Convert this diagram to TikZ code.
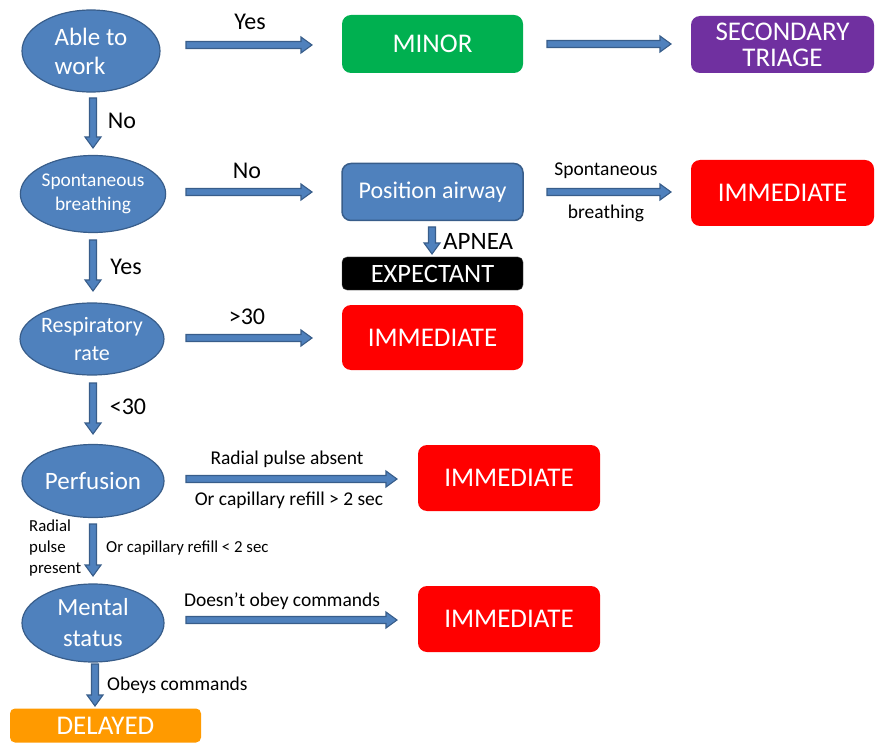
\documentclass[tikz,border=0pt]{standalone}
\usepackage{fontspec}
\setmainfont{Carlito}
\usetikzlibrary{calc,shapes.geometric}
\definecolor{obtblue}{HTML}{4F81BD}
\definecolor{obtdark}{HTML}{385D8A}
\definecolor{minorgreen}{HTML}{00B050}
\definecolor{triagepurple}{HTML}{7030A0}
\definecolor{immred}{HTML}{FF0000}
\definecolor{delayorange}{HTML}{FF9A00}
\newcommand\fsz[2]{\fontsize{#1}{#2}\selectfont}
% block arrow between two named points
\newcommand\blockarr[2]{%
  \draw[barrow] let \p1=(#1), \p2=(#2), \n1={atan2(\y2-\y1,\x2-\x1)}, \n2={veclen(\x2-\x1,\y2-\y1)} in
    [shift={(\p1)}, rotate=\n1]
    (0,-3.5) -- (\n2-11,-3.5) -- (\n2-11,-8) -- (\n2,0) -- (\n2-11,8) -- (\n2-11,3.5) -- (0,3.5) -- cycle;}
\begin{document}
\begin{tikzpicture}[x=1pt,y=-1pt,
  barrow/.style={fill=obtblue, draw=obtdark, line width=1.1pt, line join=miter},
  oval/.style={ellipse, fill=obtblue, draw=obtdark, line width=1.2pt, text=white, inner sep=0pt, align=center},
  outbox/.style={rectangle, rounded corners=9pt, text=white, inner sep=0pt, minimum width=181pt, align=center, font=\fsz{27}{26}},
  lbl/.style={inner sep=0pt, text=black, font=\fsz{24}{28}},
  smlbl/.style={inner sep=0pt, text=black, font=\fsz{19.5}{22}},
  tinylbl/.style={inner sep=0pt, text=black, font=\fsz{16.8}{21}}]
\useasboundingbox (0,0) rectangle (875,743);

% assessment steps
\node[oval, minimum width=138pt, minimum height=82pt, align=left, font=\fsz{25}{29}] (able) at (91,51) {Able to\\work};
\node[oval, minimum width=142pt, minimum height=77pt, font=\fsz{19.4}{24}] (spont) at (93,194) {Spontaneous\\breathing};
\node[oval, minimum width=140pt, minimum height=72pt, font=\fsz{22}{28}] (resp) at (92,339) {Respiratory\\rate};
\node[oval, minimum width=142pt, minimum height=73pt, font=\fsz{25}{29}] (perf) at (93,481) {Perfusion};
\node[oval, minimum width=142pt, minimum height=78pt, font=\fsz{24.6}{31}] (mental) at (93,623) {Mental\\status};

% outcomes
\node[outbox, fill=minorgreen, minimum height=58pt] (minor) at (432.5,44) {MINOR};
\node[outbox, fill=triagepurple, minimum width=183pt, minimum height=57pt] (second) at (782.5,44.5) {SECONDARY\\TRIAGE};
\node[outbox, fill=obtblue, draw=obtdark, line width=1.5pt, minimum height=57pt, font=\fsz{24}{28}] (airway) at (432.5,192) {Position airway};
\node[outbox, fill=immred, minimum width=183pt, minimum height=66pt] (imm1) at (782.5,193) {IMMEDIATE};
\node[outbox, fill=black, draw=black!70, rounded corners=5pt, minimum height=33pt, font=\fsz{26.5}{28}] (expect) at (432.5,273.5) {EXPECTANT};
\node[outbox, fill=immred, minimum height=65pt] (imm2) at (432.5,337.5) {IMMEDIATE};
\node[outbox, fill=immred, minimum width=182pt, minimum height=66pt] (imm3) at (509,478) {IMMEDIATE};
\node[outbox, fill=immred, minimum width=182pt, minimum height=66pt] (imm4) at (509,619) {IMMEDIATE};
\node[outbox, fill=delayorange, rounded corners=5pt, minimum width=191pt, minimum height=34pt] (delayed) at (105.5,725.5) {DELAYED};

% connector end points
\coordinate (h1s) at (186,45);  \coordinate (h1e) at (312,45);
\coordinate (h2s) at (547,44);  \coordinate (h2e) at (671,44);
\coordinate (h3s) at (186,192); \coordinate (h3e) at (312,192);
\coordinate (h4s) at (547,192); \coordinate (h4e) at (671,192);
\coordinate (h5s) at (186,338); \coordinate (h5e) at (312,338);
\coordinate (h6s) at (186,479); \coordinate (h6e) at (397,479);
\coordinate (h7s) at (186,620); \coordinate (h7e) at (397,620);
\coordinate (v1s) at (93,98);   \coordinate (v1e) at (93,148);
\coordinate (v2s) at (93,240);  \coordinate (v2e) at (93,291);
\coordinate (v3s) at (93,383);  \coordinate (v3e) at (93,434);
\coordinate (v4s) at (93,524);  \coordinate (v4e) at (93,576);
\coordinate (v5s) at (95,664);  \coordinate (v5e) at (95,706);
\coordinate (v6s) at (432,227); \coordinate (v6e) at (432,254);

\blockarr{h1s}{h1e} \blockarr{h2s}{h2e} \blockarr{h3s}{h3e} \blockarr{h4s}{h4e}
\blockarr{h5s}{h5e} \blockarr{h6s}{h6e} \blockarr{h7s}{h7e}
\blockarr{v1s}{v1e} \blockarr{v2s}{v2e} \blockarr{v3s}{v3e} \blockarr{v4s}{v4e}
\blockarr{v5s}{v5e} \blockarr{v6s}{v6e}

% connector labels
\node[lbl] (tyes1) at (250,22) {Yes};
\node[lbl] (tno1) at (122,121) {No};
\node[lbl] (tno2) at (247,171) {No};
\node[smlbl] (tspont) at (606,171) {Spontaneous};
\node[smlbl] (tbreath) at (606,213) {breathing};
\node[lbl, anchor=west, font=\fsz{25}{28}] (tapnea) at (443,241) {APNEA};
\node[lbl] (tyes2) at (126,267) {Yes};
\node[lbl] (tgt) at (247,317) {>30};
\node[lbl] (tlt) at (128,407) {<30};
\node[smlbl] (tabsent) at (287,459) {Radial pulse absent};
\node[smlbl] (trefgt) at (289,500) {Or capillary refill > 2 sec};
\node[tinylbl, anchor=west, align=left] (tpresent) at (29,548) {Radial\\pulse\\present};
\node[tinylbl, anchor=west] (treflt) at (106,548) {Or capillary refill < 2 sec};
\node[smlbl] (tnoobey) at (282,601) {Doesn’t obey commands};
\node[smlbl, anchor=west] (tobey) at (107,685) {Obeys commands};
\end{tikzpicture}
\end{document}
